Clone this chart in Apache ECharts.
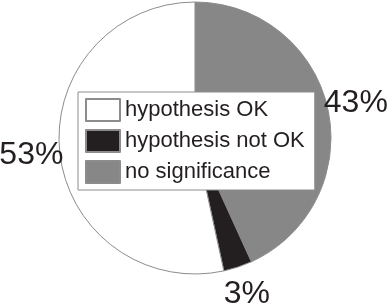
<!DOCTYPE html>
<html>
<head>
<meta charset="utf-8">
<script src="https://cdn.jsdelivr.net/npm/echarts@6/dist/echarts.min.js"></script>
<style>html,body{margin:0;padding:0;background:#fff;}#c{width:390px;height:308px;}</style>
</head>
<body>
<div id="c"></div>
<script>
// Legend order
const categories = ['hypothesis OK', 'hypothesis not OK', 'no significance'];
// Drawing order (clockwise from top)
const sliceNames = ['no significance', 'hypothesis not OK', 'hypothesis OK'];
const sliceValues = [43.2, 3.4, 53.4];
const sliceLabels = ['43%', '3%', '53%'];
const sliceColors = ['#878787', '#231f20', '#ffffff'];

const W = 390, H = 308;
const cx = 195, cy = 138, R = 136;
const total = sliceValues.reduce((a, b) => a + b, 0);
const cum = [];
let acc = 0;
sliceValues.forEach(v => { cum.push(acc + v / 2); acc += v; });

const chart = echarts.init(document.getElementById('c'), null, { renderer: 'canvas' });
chart.setOption({
  animation: false,
  backgroundColor: '#ffffff',
  textStyle: { fontFamily: 'Liberation Sans, Arial, sans-serif' },
  legend: {
    data: categories,
    orient: 'vertical',
    left: 78,
    top: 92,
    padding: [6, 10, 6, 7],
    itemWidth: 34,
    itemHeight: 22,
    itemGap: 7,
    icon: 'rect',
    selectedMode: false,
    backgroundColor: '#ffffff',
    borderColor: '#8c8c8c',
    borderWidth: 1,
    textStyle: { fontSize: 22, lineHeight: 22, color: '#231f20', fontFamily: 'Liberation Sans, Arial, sans-serif' }
  },
  series: [{
    type: 'pie',
    center: [cx, cy],
    radius: R,
    startAngle: 90,
    clockwise: true,
    avoidLabelOverlap: false,
    silent: true,
    z: 1,
    itemStyle: { borderColor: '#8c8c8c', borderWidth: 1 },
    label: {
      show: true,
      position: 'outside',
      fontSize: 32,
      color: '#231f20',
      fontFamily: 'Liberation Sans, Arial, sans-serif',
      formatter: p => sliceLabels[p.dataIndex]
    },
    labelLine: { show: false },
    labelLayout: function (params) {
      const i = params.dataIndex;
      const a = cum[i] / total * 2 * Math.PI;
      const d = R * 1.21;
      return { x: cx + Math.sin(a) * d, y: cy - Math.cos(a) * d, align: 'center', verticalAlign: 'middle' };
    },
    data: sliceNames.map((n, i) => ({ name: n, value: sliceValues[i], itemStyle: { color: sliceColors[i] } }))
  }]
});
</script>
</body>
</html>
